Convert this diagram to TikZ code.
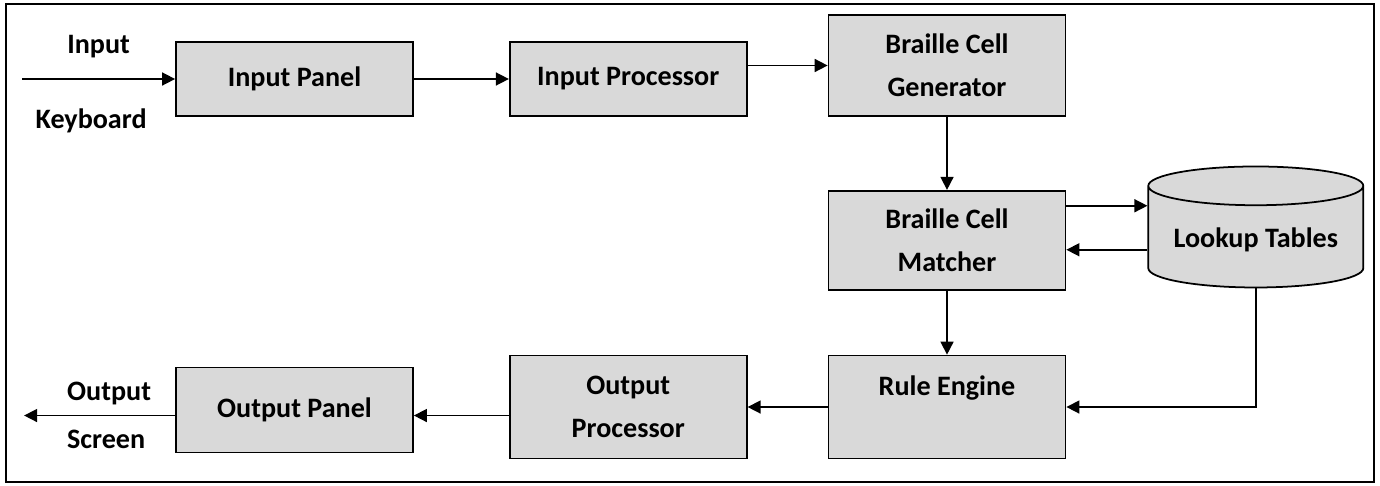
\documentclass[tikz,border=0pt]{standalone}
\usepackage{fontspec}
\setmainfont{Carlito}
\usetikzlibrary{shapes.geometric, arrows.meta, positioning}

\begin{document}
\begin{tikzpicture}[
  node distance=1.6cm and 1.6cm,
  box/.style={draw, line width=1pt, fill=black!15, minimum width=4.74cm, minimum height=1.48cm,
              font=\fontsize{16pt}{24.5pt}\selectfont\bfseries, align=center},
  db/.style={cylinder, shape border rotate=90, aspect=0.22, draw, line width=1pt, fill=black!15,
             minimum width=4.3cm, minimum height=2.42cm, font=\fontsize{16pt}{24.5pt}\selectfont\bfseries},
  lbl/.style={font=\fontsize{16pt}{18pt}\selectfont\bfseries},
  arr/.style={-{Triangle[length=0.26cm, width=0.26cm]}, line width=0.9pt},
]
  \useasboundingbox (0,0) rectangle (27.6,-9.7);
  \draw[line width=1.2pt] (0.12,-0.08) rectangle (27.48,-9.64);

  \node[box] (inpanel) at (5.89,-1.58) {Input Panel};
  \node[box, right=1.9cm of inpanel] (inproc) {Input Processor};
  \node[box, minimum height=2.02cm, right=1.6cm of inproc.south east, anchor=south west] (gen) {Braille Cell\\Generator};
  \node[box, minimum height=1.98cm, below=1.46cm of gen] (match) {Braille Cell\\Matcher};
  \node[db, right=1.62cm of match] (lookup) {Lookup Tables};
  \node[box, minimum height=2.06cm, below=1.28cm of match] (rule) {Rule Engine\\\mbox{}};
  \node[box, minimum height=2.06cm, left=1.6cm of rule] (outproc) {Output\\Processor};
  \node[box, minimum height=1.7cm, left=1.9cm of outproc, yshift=-0.06cm] (outpanel) {Output Panel};

  \coordinate[left=3.06cm of inpanel.west] (kbd);
  \coordinate[left=3.02cm of outpanel.west, yshift=-0.11cm] (scr);

  \draw[arr] (kbd) -- (inpanel.west)
    node[lbl, midway, yshift=0.64cm] (inlbl) {Input}
    node[lbl, midway, xshift=-0.15cm, yshift=-0.84cm] (kbdlbl) {Keyboard};
  \draw[arr] (inpanel) -- (inproc);
  \draw[arr] (inproc.east |- gen.west) -- (gen.west);
  \draw[arr] (gen) -- (match);
  \draw[arr] ([yshift=0.69cm]match.east) -- ([yshift=0.69cm]match.east -| lookup.west);
  \draw[arr] ([yshift=-0.19cm]match.east -| lookup.west) -- ([yshift=-0.19cm]match.east);
  \draw[arr] (match) -- (rule);
  \draw[arr] (lookup.south) |- (rule.east);
  \draw[arr] (rule) -- (outproc);
  \draw[arr] (outproc.west |- scr) -- (scr -| outpanel.east);
  \draw[arr] (scr -| outpanel.west) -- (scr)
    node[lbl, midway, xshift=0.19cm, yshift=0.44cm] (outlbl) {Output}
    node[lbl, midway, xshift=0.13cm, yshift=-0.48cm] (scrlbl) {Screen};
\end{tikzpicture}
\end{document}
